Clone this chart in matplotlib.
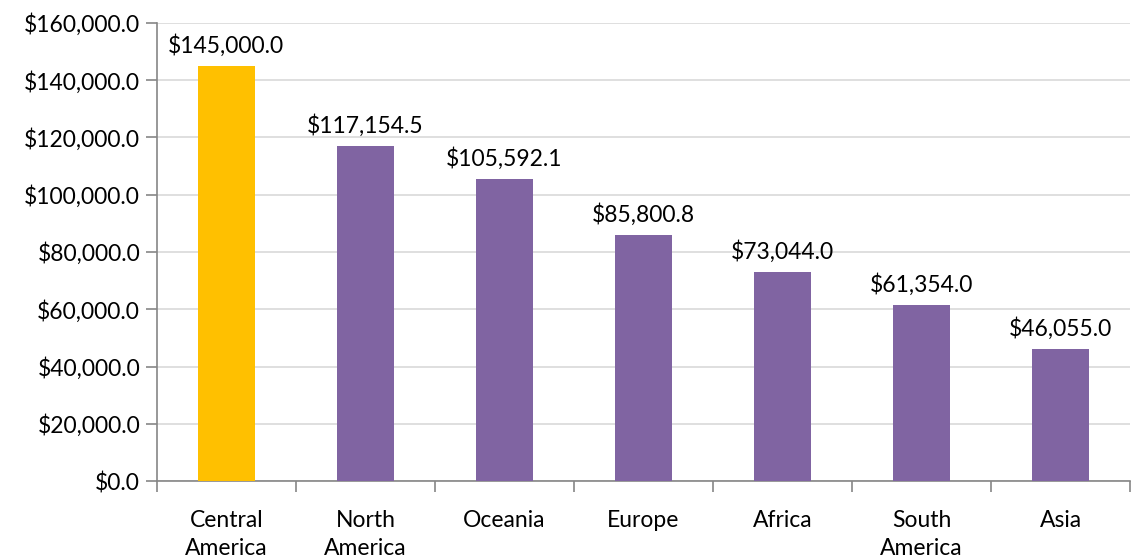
import matplotlib
matplotlib.use("Agg")
import matplotlib.pyplot as plt
from matplotlib.ticker import FuncFormatter, FixedLocator

categories = ["Central\nAmerica", "North\nAmerica", "Oceania", "Europe", "Africa", "South\nAmerica", "Asia"]
values = [145000.0, 117154.5, 105592.1, 85800.8, 73044.0, 61354.0, 46055.0]
colors = ["#FFC000"] + ["#8064A2"] * 6
yticks = [0, 20000, 40000, 60000, 80000, 100000, 120000, 140000, 160000]

plt.rcParams['font.family'] = ['Lato', 'DejaVu Sans']
FS = 16.5

fig = plt.figure(figsize=(11.45, 5.6), dpi=100)
ax = fig.add_axes([0.137, 0.141, 0.850, 0.818])

x = list(range(len(categories)))
ax.bar(x, values, width=0.41, color=colors, zorder=3)
for xi, v in zip(x, values):
    ax.text(xi, v + 3200, f"${v:,.1f}", ha="center", va="bottom", fontsize=FS, color="#000000")

ax.set_xlim(-0.5, len(categories) - 0.5)
ax.set_ylim(0, 160000)
ax.set_yticks(yticks)
ax.yaxis.set_major_formatter(FuncFormatter(lambda v, p: f"${v:,.1f}"))
ax.grid(axis="y", color="#D9D9D9", linewidth=1.2, zorder=0)

ax.set_xticks(x)
ax.set_xticklabels(categories, fontsize=FS, linespacing=1.4)
ax.tick_params(axis="x", which="major", length=0, pad=21)
ax.xaxis.set_minor_locator(FixedLocator([i + 0.5 for i in range(-1, len(categories))]))
ax.tick_params(axis="x", which="minor", length=8, color="#868686", width=1.2)
ax.tick_params(axis="y", length=8, color="#868686", width=1.2, labelsize=FS, pad=4)

for s in ["top", "right"]:
    ax.spines[s].set_visible(False)
for s in ["left", "bottom"]:
    ax.spines[s].set_color("#868686")
    ax.spines[s].set_linewidth(1.2)

fig.savefig("out.png", dpi=100)
